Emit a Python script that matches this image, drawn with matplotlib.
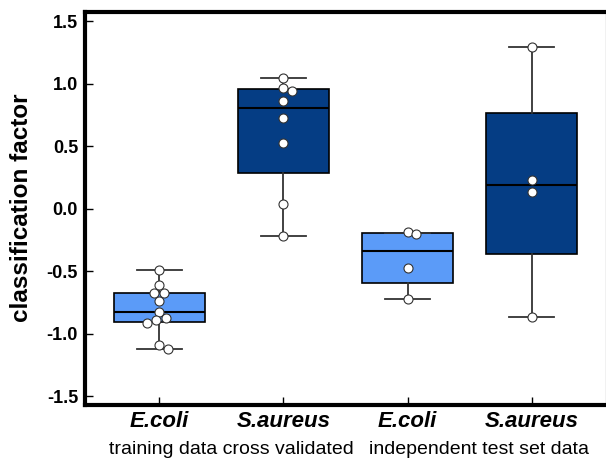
import matplotlib
matplotlib.use('Agg')
import matplotlib.pyplot as plt
import numpy as np

plt.rcParams['font.family'] = ['Liberation Sans', 'DejaVu Sans']

# groups / labels
species = ['E.coli', 'S.aureus', 'E.coli', 'S.aureus']
subtitles = ['training data cross validated', 'independent test set data']
box_colors = ['#5b9bf8', '#053d84', '#5b9bf8', '#053d84']

# box statistics
q1 = [-0.906, 0.286, -0.594, -0.36]
med = [-0.824, 0.806, -0.336, 0.19]
q3 = [-0.67, 0.958, -0.19, 0.766]
whislo = [-1.12, -0.22, -0.718, -0.866]
whishi = [-0.49, 1.046, -0.19, 1.298]

# individual points
ecoli_train = [-0.49, -0.61, -0.67, -0.67, -0.74, -0.824, -0.87, -0.89, -0.915, -1.09, -1.12]
saureus_cv = [1.046, 0.97, 0.94, 0.864, 0.73, 0.525, 0.037, -0.22]
ecoli_test = [-0.187, -0.2, -0.475, -0.718]
saureus_test = [1.298, 0.232, 0.138, -0.866]
points = [ecoli_train, saureus_cv, ecoli_test, saureus_test]


def swarm(vals, d=9.0, ypx=125.0, xpx=124.0):
    # simple beeswarm, works in pixels, returns x offsets in data units
    placed = []
    offs = []
    for v in vals:
        y = v * ypx
        cands = [0.0]
        for (px, py) in placed:
            dy = abs(py - y)
            if dy < d:
                dx = np.sqrt(d * d - dy * dy)
                cands += [px + dx, px - dx]
        cands.sort(key=lambda c: (abs(c), -c))
        for c in cands:
            ok = all((c - px) ** 2 + (y - py) ** 2 >= d * d - 1e-6 for (px, py) in placed)
            if ok:
                break
        placed.append((c, y))
        offs.append(c / xpx)
    return np.array(offs)


fig = plt.figure(figsize=(6.06, 4.58), dpi=100)
ax = fig.add_axes([85 / 606, 1 - 405 / 458, 521 / 606, 393.5 / 458])

pos = np.arange(1, 5)
stats = []
for i in range(4):
    stats.append(dict(q1=q1[i], med=med[i], q3=q3[i], whislo=whislo[i], whishi=whishi[i], fliers=[]))

bp = ax.bxp(stats, positions=pos, widths=0.74, patch_artist=True, showfliers=False,
            boxprops=dict(edgecolor='black', linewidth=1.2),
            medianprops=dict(color='black', linewidth=1.5),
            whiskerprops=dict(color='#333333', linewidth=1.3),
            capprops=dict(color='#333333', linewidth=1.3),
            capwidths=0.36)
for patch, c in zip(bp['boxes'], box_colors):
    patch.set_facecolor(c)

for i, vals in enumerate(points):
    xs = pos[i] + swarm(vals)
    ax.plot(xs, vals, 'o', ms=6.5, mfc='white', mec='#333333', mew=0.8, zorder=5)

ax.set_xlim(0.4, 4.6)
ax.set_ylim(-1.57, 1.58)
ax.set_yticks([-1.5, -1.0, -0.5, 0.0, 0.5, 1.0, 1.5])
ax.set_yticklabels(['-1.5', '-1.0', '-0.5', '0.0', '0.5', '1.0', '1.5'], fontsize=13, fontweight='bold')
ax.set_xticks(pos)
ax.set_xticklabels(species, fontsize=16, fontweight='bold', style='italic')
ax.tick_params(direction='in', length=6, width=1, pad=5)
ax.tick_params(axis='x', pad=4)

for s in ['left', 'top', 'bottom']:
    ax.spines[s].set_linewidth(3)
ax.spines['right'].set_linewidth(1)
ax.spines['right'].set_color('#bbbbbb')

ax.set_ylabel('classification factor', fontsize=17.5, fontweight='bold')
ax.yaxis.set_label_coords(-52 / 521, 0.5)

trans = ax.get_xaxis_transform()
ax.text(1.58, -49 / 393.5, subtitles[0], transform=trans, ha='center', va='baseline', fontsize=14)
ax.text(3.58, -49 / 393.5, subtitles[1], transform=trans, ha='center', va='baseline', fontsize=14)

fig.savefig('out.png', dpi=100)
